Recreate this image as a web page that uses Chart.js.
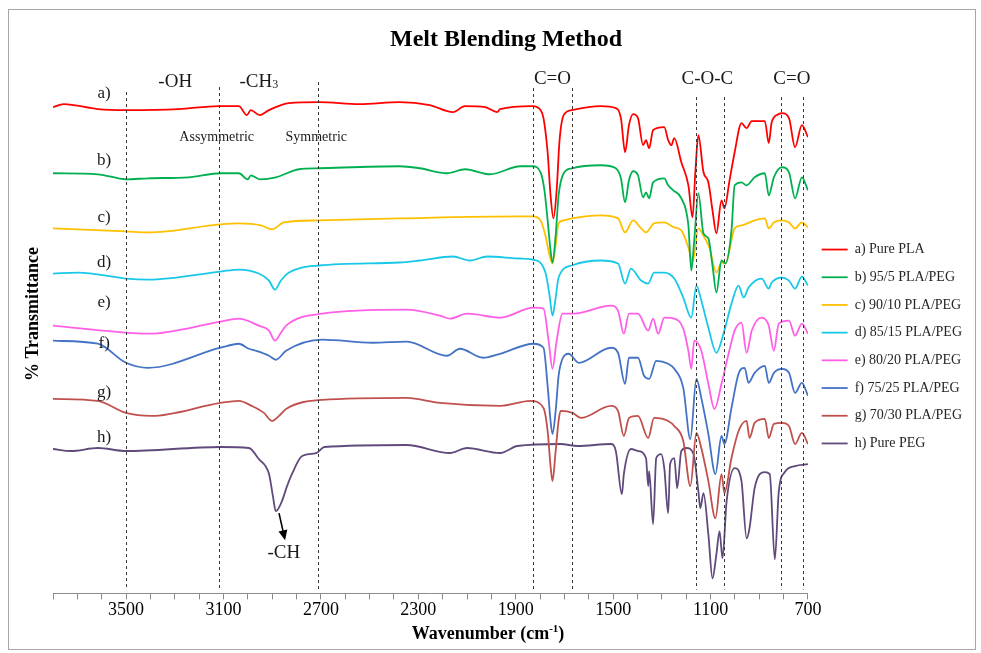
<!DOCTYPE html>
<html>
<head>
<meta charset="utf-8">
<title>Melt Blending Method</title>
<script src="https://cdn.jsdelivr.net/npm/chart.js@4.4.1/dist/chart.umd.min.js"></script>
<style>
  html, body { margin: 0; padding: 0; background: #fff; }
</style>
</head>
<body>
<canvas id="ftir-chart" width="981" height="653"></canvas>
<script>
// FTIR spectra, [wavenumber (cm-1), % transmittance (offset)]
var purePLA = [[3800,98.6],[3756,99.2],[3616,98.2],[3500,98.0],[3285,98.2],[3120,98.8],[3037,98.8],[3004,97.0],[2988,98.0],[2951,97.0],[2913,98.0],[2831,99.4],[2707,99.6],[2542,99.2],[2377,99.6],[2253,99.0],[2158,97.6],[2108,98.8],[2026,98.6],[1976,97.6],[1964,98.2],[1831,98.8],[1798,98.0],[1786,96.4],[1769,89.6],[1757,81.0],[1745,76.4],[1732,82.0],[1720,92.0],[1703,97.0],[1670,98.0],[1551,98.8],[1489,98.4],[1468,96.4],[1451,89.6],[1435,95.0],[1418,97.2],[1398,96.4],[1377,91.0],[1365,92.0],[1352,90.4],[1336,94.0],[1290,94.6],[1274,92.0],[1261,91.0],[1249,92.4],[1220,87.6],[1191,83.0],[1174,76.6],[1162,86.0],[1150,93.0],[1129,85.6],[1109,83.6],[1092,78.0],[1076,73.4],[1055,80.0],[1043,78.4],[1022,84.0],[1001,89.6],[973,95.4],[952,94.4],[931,95.8],[877,95.8],[861,91.4],[849,95.6],[820,97.2],[807,97.4],[778,96.4],[753,90.6],[725,95.0],[700,92.6]];

var blend95 = [[3800,85.4],[3616,85.2],[3500,84.2],[3409,84.4],[3244,84.6],[3112,85.4],[3037,85.4],[3000,84.2],[2988,85.0],[2951,84.2],[2885,84.6],[2790,86.2],[2707,86.4],[2377,86.8],[2294,86.4],[2182,85.4],[2108,86.2],[2005,85.2],[1881,86.8],[1831,86.8],[1798,85.6],[1782,82.0],[1769,76.0],[1757,70.0],[1749,67.6],[1736,73.0],[1724,81.0],[1703,85.4],[1670,86.4],[1551,87.0],[1489,86.4],[1468,84.4],[1451,79.6],[1435,84.0],[1418,85.8],[1398,85.0],[1377,80.6],[1365,81.6],[1352,80.4],[1336,83.6],[1290,84.4],[1274,83.0],[1253,82.0],[1220,80.4],[1191,75.0],[1179,66.0],[1167,72.0],[1150,81.4],[1129,73.4],[1109,72.4],[1092,67.0],[1076,61.6],[1055,68.0],[1039,67.4],[1014,74.0],[1001,83.0],[973,83.6],[952,83.0],[919,84.6],[877,85.4],[861,81.0],[840,84.6],[807,86.6],[778,85.6],[753,80.4],[725,84.6],[700,82.0]];

var blend90 = [[3800,74.4],[3500,73.8],[3409,73.6],[3112,75.2],[3037,75.4],[2946,75.0],[2901,74.2],[2852,75.6],[2707,76.0],[2377,76.4],[1881,76.8],[1831,76.8],[1798,76.0],[1778,73.0],[1761,69.0],[1749,67.4],[1736,71.0],[1724,75.4],[1703,76.0],[1670,76.4],[1551,77.0],[1480,76.4],[1451,73.6],[1418,76.0],[1385,74.4],[1365,73.6],[1332,75.4],[1290,75.6],[1249,74.6],[1220,74.0],[1191,70.6],[1174,67.6],[1150,74.4],[1125,72.6],[1105,70.6],[1076,65.6],[1055,67.6],[1039,67.4],[1001,74.4],[973,75.0],[919,76.0],[877,76.4],[861,74.4],[840,75.6],[807,76.0],[778,75.6],[753,74.4],[725,75.6],[700,74.6]];

var blend85 = [[3800,65.4],[3698,65.6],[3500,64.4],[3409,64.2],[3112,65.8],[3037,66.2],[2955,65.4],[2913,64.0],[2889,62.2],[2864,64.0],[2831,65.6],[2707,67.0],[2377,67.6],[2294,68.0],[2158,68.8],[2088,68.0],[2017,68.8],[1881,68.4],[1831,68.2],[1778,65.6],[1761,61.0],[1749,57.0],[1736,60.6],[1724,64.6],[1670,67.0],[1551,68.0],[1480,67.4],[1451,63.4],[1427,66.4],[1385,64.0],[1356,63.4],[1332,65.6],[1290,65.6],[1249,64.4],[1212,60.6],[1179,56.6],[1158,63.0],[1138,60.0],[1109,54.6],[1076,49.6],[1047,53.4],[1014,59.4],[985,63.0],[964,60.6],[944,62.6],[890,64.4],[861,62.4],[849,63.6],[807,64.6],[778,64.0],[753,62.4],[725,64.8],[700,63.0]];

var blend80 = [[3800,55.0],[3500,53.6],[3409,53.4],[3112,55.8],[3037,56.4],[2955,55.0],[2913,54.0],[2889,52.0],[2864,53.6],[2843,55.0],[2695,57.4],[2348,58.2],[2211,57.0],[2170,56.4],[2100,57.4],[1964,56.6],[1827,58.6],[1786,58.4],[1765,52.0],[1749,46.4],[1732,52.0],[1708,57.4],[1662,57.4],[1509,59.0],[1480,58.0],[1456,53.4],[1435,57.4],[1398,57.4],[1356,54.0],[1336,56.4],[1315,53.4],[1290,56.6],[1249,56.4],[1212,54.4],[1191,50.0],[1179,46.4],[1167,52.0],[1138,50.0],[1109,43.4],[1084,38.4],[1055,43.4],[1026,49.4],[1001,54.0],[973,55.6],[952,49.6],[931,54.0],[890,56.6],[861,55.0],[840,50.0],[820,55.4],[778,56.0],[753,53.0],[725,55.4],[700,53.4]];

var blend75 = [[3800,52.0],[3616,51.4],[3500,47.6],[3409,46.6],[3112,50.6],[3037,51.4],[2996,50.4],[2967,50.0],[2913,49.0],[2885,48.2],[2843,50.0],[2695,52.2],[2488,51.6],[2348,51.8],[2182,49.0],[2129,50.4],[2034,48.6],[1964,49.4],[1827,51.4],[1786,50.6],[1769,43.0],[1757,36.0],[1749,33.4],[1736,38.0],[1724,45.0],[1708,48.4],[1683,49.4],[1641,47.6],[1509,50.6],[1480,49.6],[1451,43.4],[1435,48.6],[1398,48.6],[1373,45.0],[1352,44.4],[1323,48.0],[1274,47.4],[1249,46.4],[1212,42.6],[1183,32.4],[1158,44.4],[1138,40.6],[1109,33.4],[1080,25.4],[1055,33.0],[1043,31.4],[1014,38.6],[985,45.4],[960,46.6],[944,43.6],[919,45.6],[877,47.0],[861,43.6],[840,45.6],[807,46.4],[778,45.6],[753,41.6],[725,43.6],[700,41.0]];

var blend70 = [[3800,40.4],[3616,40.0],[3500,37.6],[3397,37.0],[3112,39.6],[3037,40.0],[2984,39.0],[2934,37.6],[2901,36.0],[2872,37.0],[2843,38.4],[2695,40.2],[2348,40.6],[2211,39.6],[1964,39.0],[1840,40.0],[1786,38.6],[1769,34.0],[1757,27.0],[1749,24.0],[1736,30.0],[1724,36.0],[1716,38.0],[1666,37.6],[1633,36.6],[1509,39.0],[1480,38.0],[1456,33.0],[1435,36.6],[1398,37.0],[1356,32.6],[1332,36.6],[1274,36.0],[1249,35.0],[1212,32.0],[1183,23.0],[1158,33.6],[1138,30.6],[1109,24.0],[1080,16.6],[1055,25.4],[1043,21.6],[1014,28.6],[985,34.0],[952,36.0],[940,32.6],[919,35.6],[877,36.4],[861,32.6],[840,35.4],[807,35.6],[778,35.0],[753,31.4],[725,33.6],[700,31.4]];

var purePEG = [[3800,30.4],[3727,30.0],[3616,30.6],[3500,30.0],[3112,30.8],[2996,30.6],[2955,28.4],[2913,25.4],[2897,21.0],[2885,18.0],[2860,20.0],[2839,23.0],[2819,25.4],[2777,29.0],[2719,29.6],[2686,30.8],[2348,31.2],[2170,29.6],[2100,30.6],[1964,29.6],[1893,31.0],[1716,31.4],[1646,31.0],[1509,31.4],[1489,30.0],[1464,21.4],[1456,25.4],[1427,30.4],[1398,30.0],[1365,28.6],[1356,23.0],[1352,26.0],[1336,15.4],[1323,28.6],[1303,29.4],[1290,26.6],[1274,17.6],[1266,27.4],[1249,28.6],[1237,22.6],[1220,30.0],[1199,30.6],[1170,29.4],[1150,22.0],[1142,18.6],[1129,21.6],[1109,13.4],[1092,4.6],[1076,9.4],[1063,14.0],[1051,8.6],[1034,20.0],[1001,26.6],[973,24.0],[952,12.6],[940,14.6],[919,22.6],[877,25.8],[857,25.4],[836,8.4],[820,21.8],[795,25.8],[753,27.0],[700,27.4]];

var seriesData = [purePLA, blend95, blend90, blend85, blend80, blend75, blend70, purePEG];
var seriesNames = ["a) Pure PLA", "b) 95/5 PLA/PEG", "c) 90/10 PLA/PEG", "d) 85/15 PLA/PEG",
                   "e) 80/20 PLA/PEG", "f) 75/25 PLA/PEG", "g) 70/30 PLA/PEG", "h) Pure PEG"];
var seriesColors = ["#FF0000", "#00B050", "#FFC000", "#19C8E8", "#FF5FE6", "#4472C4", "#C0504D", "#604A7B"];
var curveLetters = ["a)", "b)", "c)", "d)", "e)", "f)", "g)", "h)"];
var curveLetterT = [101.4, 88, 76.6, 67.6, 59.6, 51.4, 41.6, 32.6];

var tickLabels = [3500, 3100, 2700, 2300, 1900, 1500, 1100, 700];
var bandWavenumbers = [3500, 3120, 2710, 1830, 1670, 1160, 1045, 810, 720];
var bandTops = [101.6, 102.6, 103.6, 102.4, 102.4, 100.6, 100.6, 100.6, 100.6];

var SERIF = "'Liberation Serif', 'Times New Roman', serif";
Chart.defaults.font.family = SERIF;
Chart.defaults.color = '#000';

var bandLabels = [
  { text: '-OH', wn: 3298, t: 103.6, size: 19 },
  { text: '-CH', sub: '3', wn: 2955, t: 103.6, size: 19 },
  { text: 'Assymmetric', wn: 3128, t: 92.6, size: 14 },
  { text: 'Symmetric', wn: 2719, t: 92.6, size: 14 },
  { text: 'C=O', wn: 1749, t: 104.2, size: 19 },
  { text: 'C-O-C', wn: 1113, t: 104.2, size: 19 },
  { text: 'C=O', wn: 766, t: 104.2, size: 19 },
  { text: '-CH', wn: 2852, t: 9.6, size: 19 }
];

// draws text centred on x, with an optional subscript / superscript part
function drawParts(ctx, parts, cx, cy) {
  var total = 0;
  parts.forEach(function (p) { ctx.font = p.font; p.w = ctx.measureText(p.text).width; total += p.w; });
  var x = cx - total / 2;
  ctx.textAlign = 'left';
  parts.forEach(function (p) {
    ctx.font = p.font;
    ctx.fillText(p.text, x, cy + (p.dy || 0));
    x += p.w;
  });
  ctx.textAlign = 'center';
}

var textLayer = {
  id: 'textLayer',
  beforeDraw: function (chart) {
    var ctx = chart.ctx;
    ctx.save();
    ctx.fillStyle = '#fff';
    ctx.fillRect(0, 0, chart.width, chart.height);
    ctx.strokeStyle = '#a6a6a6';
    ctx.lineWidth = 1;
    ctx.strokeRect(8.5, 9.5, 967, 640);
    ctx.restore();
  },
  afterDatasetsDraw: function (chart) {
    var ctx = chart.ctx;
    var xs = chart.scales.x, ys = chart.scales.y;
    var bottom = chart.chartArea.bottom;
    ctx.save();

    // dashed band markers
    ctx.strokeStyle = '#333';
    ctx.lineWidth = 1;
    ctx.setLineDash([3, 3]);
    bandWavenumbers.forEach(function (wn, i) {
      var px = Math.round(xs.getPixelForValue(wn)) + 0.5;
      ctx.beginPath();
      ctx.moveTo(px, ys.getPixelForValue(bandTops[i]));
      ctx.lineTo(px, bottom - 4);
      ctx.stroke();
    });
    ctx.setLineDash([]);

    ctx.fillStyle = '#1a1a1a';
    ctx.textAlign = 'center';
    ctx.textBaseline = 'middle';

    ctx.font = '17px ' + SERIF;
    curveLetters.forEach(function (txt, i) {
      ctx.fillText(txt, xs.getPixelForValue(3590), ys.getPixelForValue(curveLetterT[i]));
    });

    bandLabels.forEach(function (b) {
      var parts = [{ text: b.text, font: b.size + 'px ' + SERIF }];
      if (b.sub) parts.push({ text: b.sub, font: Math.round(b.size * 0.62) + 'px ' + SERIF, dy: 3 });
      drawParts(ctx, parts, xs.getPixelForValue(b.wn), ys.getPixelForValue(b.t));
    });

    // arrow pointing to the PEG -CH stretch
    var x0 = xs.getPixelForValue(2872), y0 = ys.getPixelForValue(17.6);
    var x1 = xs.getPixelForValue(2847), y1 = ys.getPixelForValue(12.2);
    var ang = Math.atan2(y1 - y0, x1 - x0);
    ctx.strokeStyle = '#000';
    ctx.lineWidth = 1.6;
    ctx.beginPath();
    ctx.moveTo(x0, y0);
    ctx.lineTo(x1 - 6 * Math.cos(ang), y1 - 6 * Math.sin(ang));
    ctx.stroke();
    ctx.fillStyle = '#000';
    ctx.beginPath();
    ctx.moveTo(x1, y1);
    ctx.lineTo(x1 - 10 * Math.cos(ang) + 4.5 * Math.sin(ang), y1 - 10 * Math.sin(ang) - 4.5 * Math.cos(ang));
    ctx.lineTo(x1 - 10 * Math.cos(ang) - 4.5 * Math.sin(ang), y1 - 10 * Math.sin(ang) + 4.5 * Math.cos(ang));
    ctx.closePath();
    ctx.fill();

    // titles
    ctx.fillStyle = '#000';
    ctx.font = 'bold 24px ' + SERIF;
    ctx.fillText('Melt Blending Method', 506, 40);

    drawParts(ctx, [
      { text: 'Wavenumber (cm', font: 'bold 18px ' + SERIF },
      { text: '-1', font: 'bold 11px ' + SERIF, dy: -5 },
      { text: ')', font: 'bold 18px ' + SERIF }
    ], 488, 634);

    ctx.translate(33, 314);
    ctx.rotate(-Math.PI / 2);
    ctx.font = 'bold 18px ' + SERIF;
    ctx.fillText('% Transmittance', 0, 0);
    ctx.restore();
  }
};

var ctx = document.getElementById('ftir-chart');

var chartData = {
  datasets: seriesData.map(function (d, i) {
    return {
      label: seriesNames[i],
      data: d,
      borderColor: seriesColors[i],
      backgroundColor: seriesColors[i],
      borderWidth: 1.8,
      pointRadius: 0,
      cubicInterpolationMode: 'monotone',
      fill: false
    };
  })
};

var chartOptions = {
  responsive: false,
  animation: false,
  layout: { padding: { left: 53, top: 72, right: 9, bottom: 32 } },
  plugins: {
    title: { display: false },
    tooltip: { enabled: false },
    legend: {
      position: 'right',
      align: 'center',
      labels: {
        usePointStyle: true,
        pointStyle: 'line',
        pointStyleWidth: 26,
        padding: 13.7,
        color: '#262626',
        font: { family: SERIF, size: 14 }
      }
    }
  },
  scales: {
    x: {
      type: 'linear',
      reverse: true,
      min: 700,
      max: 3800,
      grid: { display: true, drawOnChartArea: false, drawTicks: true, tickLength: 6, color: '#8c8c8c' },
      border: { display: true, color: '#8c8c8c' },
      ticks: {
        stepSize: 100,
        autoSkip: false,
        maxRotation: 0,
        padding: 0,
        color: '#000',
        font: { family: SERIF, size: 18 },
        callback: function (v) { return tickLabels.indexOf(v) >= 0 ? String(v) : ''; }
      }
    },
    y: {
      display: false,
      min: 1.6,
      max: 105.6
    }
  }
};

new Chart(ctx, {
  type: 'line',
  data: chartData,
  options: chartOptions,
  plugins: [textLayer]
});
</script>
</body>
</html>
